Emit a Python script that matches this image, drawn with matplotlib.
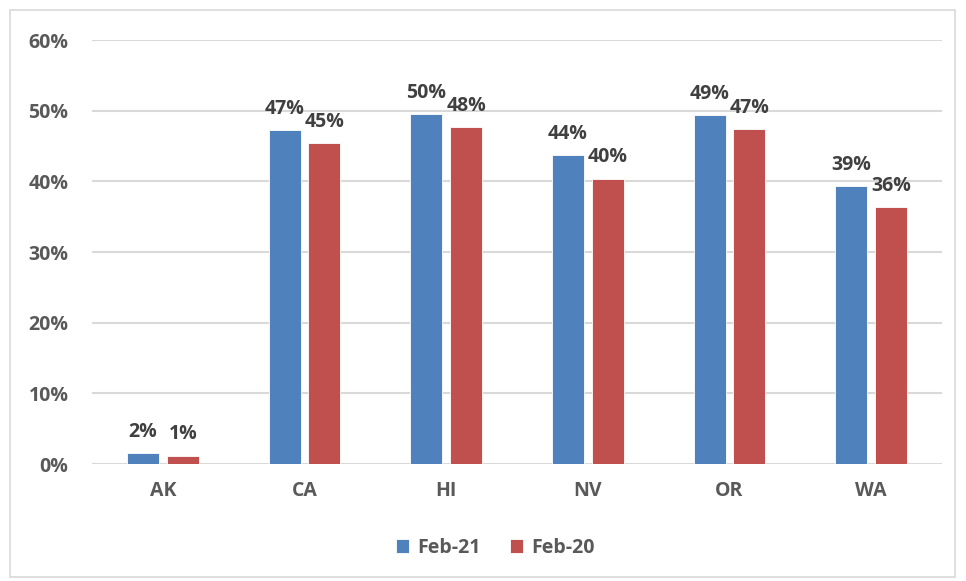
import numpy as np
import matplotlib
matplotlib.use("Agg")
import matplotlib.pyplot as plt
from matplotlib.patches import Rectangle

states = ["AK", "CA", "HI", "NV", "OR", "WA"]
feb21 = [1.6, 47.3, 49.5, 43.7, 49.4, 39.3]
feb20 = [1.2, 45.4, 47.7, 40.4, 47.4, 36.4]
series_names = ["Feb-21", "Feb-20"]

BLUE = "#4f81bd"
RED = "#c0504d"
TXT = "#595959"
LBL = "#404040"

plt.rcParams['font.family'] = ['Open Sans', 'DejaVu Sans']
plt.rcParams['font.weight'] = 'bold'

fig = plt.figure(figsize=(9.66, 5.81), dpi=100)
ax = fig.add_axes([92/966, 1 - 464/581, 850/966, 424/581])

x = np.arange(len(states))
w = 0.226
off = 0.141
b1 = ax.bar(x - off, feb21, w, color=BLUE, edgecolor="white", linewidth=0.6, label=series_names[0], zorder=3)
b2 = ax.bar(x + off, feb20, w, color=RED, edgecolor="white", linewidth=0.6, label=series_names[1], zorder=3)

for bars, vals in ((b1, feb21), (b2, feb20)):
    for b, v in zip(bars, vals):
        ax.annotate("%d%%" % round(v), (b.get_x() + b.get_width()/2, v),
                    xytext=(0, 8), textcoords="offset points", ha="center", va="bottom",
                    fontsize=14, fontweight="bold", color=LBL)

ax.set_xlim(-0.5, len(states) - 0.5)
ax.set_ylim(0, 60)
ax.set_yticks(range(0, 61, 10))
ax.set_yticklabels(["%d%%" % t for t in range(0, 61, 10)])
ax.set_xticks(x)
ax.set_xticklabels(states)
ax.tick_params(axis="both", length=0, labelsize=14, labelcolor=TXT)
ax.tick_params(axis="y", pad=17)
ax.tick_params(axis="x", pad=12)
for lbl in ax.get_xticklabels() + ax.get_yticklabels():
    lbl.set_fontweight("bold")
ax.grid(axis="y", color="#d9d9d9", linewidth=1.5, zorder=0)
for s in ax.spines.values():
    s.set_visible(False)

fig.legend(handles=[b1, b2], labels=series_names, loc="center", bbox_to_anchor=(495/966, 1 - 548/581),
           ncol=2, frameon=False, fontsize=14, handlelength=0.7, handleheight=0.7,
           columnspacing=1.5, handletextpad=0.4, labelcolor=TXT)

fig.patches.append(Rectangle((10/966, 1 - 577/581), 945/966, 567/581, transform=fig.transFigure,
                             fill=False, edgecolor="#d9d9d9", linewidth=1.2))

fig.savefig("out.png", dpi=100)
